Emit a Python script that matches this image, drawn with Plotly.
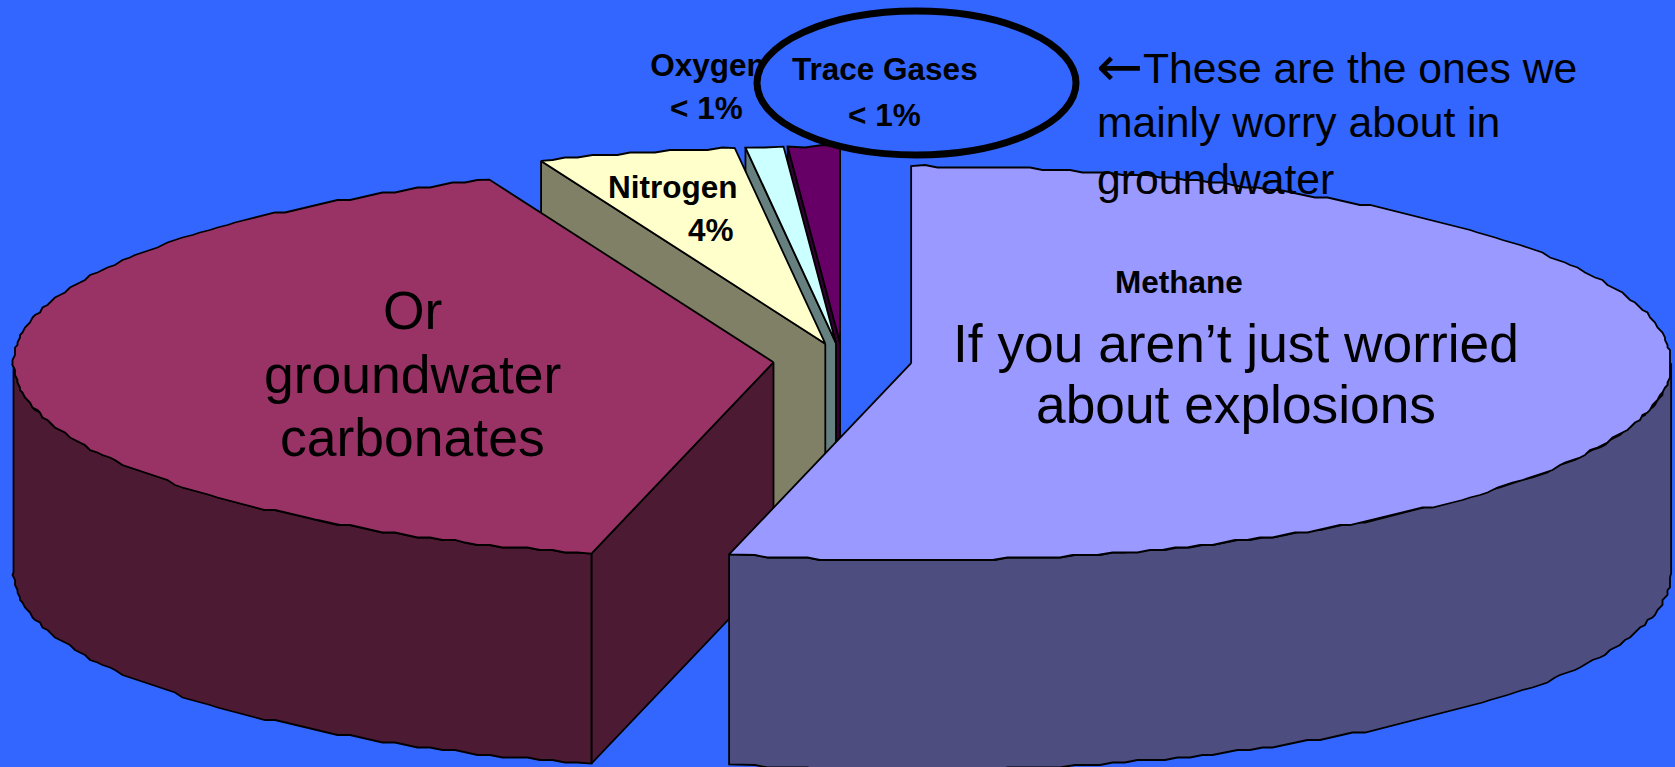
import numpy as np
import plotly.graph_objects as go

# ---- data -------------------------------------------------------------
categories = ["Methane", "Carbon dioxide", "Nitrogen", "Oxygen", "Trace Gases"]
shares = [53.85, 40.05, 4.2, 0.8, 1.1]
top_colors = ["#9999FF", "#993366", "#FFFFCC", "#CCFFFF", "#660066"]
side_colors = ["#4D4D80", "#4D1A33", "#808066", "#668080", "#330033"]

BG = "#3366FF"
W, H = 1675, 767

# ---- pie geometry (3-D projection) --------------------------------------
CX, CY = 842.5, 361.0
RX, RY = 760.0, 197.0
DEPTH = 210.0
EXPLODE = 0.091
GRID = 2.5


def rim(theta, ox, oy):
    """Point on the rim; theta in degrees clockwise from 12 o'clock."""
    t = np.radians(theta)
    return ox + RX * np.sin(t), oy - RY * np.cos(t)


def arc(a0, a1, ox, oy):
    n = max(int(abs(a1 - a0) / 1.0), 2)
    th = np.linspace(a0, a1, n + 1)
    x, y = rim(th, ox, oy)
    # the source is a coarse metafile: its curves sit on a pixel grid
    xs = np.round(x / GRID) * GRID
    ys = np.round(y / GRID) * GRID
    xs[0], ys[0] = x[0], y[0]
    xs[-1], ys[-1] = x[-1], y[-1]
    return xs, ys


def poly(fig, xs, ys, color, name):
    fig.add_trace(go.Scatter(
        x=list(xs) + [xs[0]], y=list(ys) + [ys[0]], mode="lines", fill="toself",
        fillcolor=color, line=dict(color="#000000", width=1.8), name=name,
        hoverinfo="skip", showlegend=False,
    ))


fig = go.Figure()

total = sum(shares)
edges = np.concatenate([[0.0], np.cumsum(shares) / total * 360.0])
slices = []
for i, cat in enumerate(categories):
    a0, a1 = edges[i], edges[i + 1]
    mid = np.radians((a0 + a1) / 2)
    ox = CX + EXPLODE * RX * np.sin(mid)
    oy = CY - EXPLODE * RY * np.cos(mid)
    slices.append((i, cat, a0, a1, ox, oy))

# paint back to front: smallest slices at the back, methane in front
for i, cat, a0, a1, ox, oy in sorted(slices, key=lambda s: -s[0]):
    top, side = top_colors[i], side_colors[i]
    # radial wall on the starting edge, when it faces the viewer
    if 180 < a0 < 360:
        ex, ey = rim(a0, ox, oy)
        poly(fig, [ox, ex, ex, ox], [oy, ey, ey + DEPTH, oy + DEPTH], side, cat + " wall")
    # outer wall: the part of the rim on the near half of the ellipse
    lo, hi = max(a0, 90.0), min(a1, 270.0)
    if lo < hi:
        ax, ay = arc(lo, hi, ox, oy)
        poly(fig, list(ax) + list(ax[::-1]), list(ay) + list(ay[::-1] + DEPTH), side, cat + " side")
    # top face
    ax, ay = arc(a0, a1, ox, oy)
    poly(fig, [ox] + list(ax), [oy] + list(ay), top, cat)

# label that the ellipse partly covers, so it goes under the shape layer
fig.add_trace(go.Scatter(
    x=[708], y=[68], mode="text", text=["Oxygen"], textposition="middle center",
    textfont=dict(family="Liberation Sans", size=31.5, color="#000000", weight="bold"),
    hoverinfo="skip", showlegend=False,
))

fig.add_shape(type="circle", xref="x", yref="y", x0=757, x1=1076, y0=11, y1=155,
              fillcolor=BG, line=dict(color="#000000", width=7), layer="above")

bold = [
    ("< 1%", 706, 108, 31.5),
    ("Trace Gases", 885, 69, 31.5),
    ("< 1%", 884, 115, 31.5),
    ("Nitrogen", 673, 187, 31.5),
    ("4%", 711, 230, 31.5),
    ("Methane", 1179, 282, 31.5),
]
regular = [
    ("Or", 412, 310, 53.5),
    ("groundwater", 412, 374, 53.5),
    ("carbonates", 412, 437, 53.5),
    ("If you aren\u2019t just worried", 1236, 343, 53.3),
    ("about explosions", 1236, 404, 53.3),
]
for txt, x, y, s in bold:
    fig.add_annotation(x=x, y=y, text="<b>%s</b>" % txt, showarrow=False, xanchor="center", yanchor="middle",
                       font=dict(family="Liberation Sans", size=s, color="#000000"))
for txt, x, y, s in regular:
    fig.add_annotation(x=x, y=y, text=txt, showarrow=False, xanchor="center", yanchor="middle",
                       font=dict(family="Liberation Sans", size=s, color="#000000"))
for txt, x, y in [("These are the ones we", 1141, 68), ("mainly worry about in", 1095, 122), ("groundwater", 1095, 179)]:
    fig.add_annotation(x=x, y=y, text=txt, showarrow=False, xanchor="left", yanchor="middle",
                       font=dict(family="Liberation Sans", size=42.7, color="#000000"))
fig.add_annotation(x=1119, y=66, text="\u2190", showarrow=False, xanchor="center", yanchor="middle",
                   font=dict(family="DejaVu Sans", size=56, color="#000000"))

fig.update_layout(
    width=W, height=H, margin=dict(l=0, r=0, t=0, b=0),
    paper_bgcolor=BG, plot_bgcolor=BG, showlegend=False,
    xaxis=dict(visible=False, range=[0, W], fixedrange=True),
    yaxis=dict(visible=False, range=[H, 0], fixedrange=True),
)
fig.write_html("out.html", config={"displayModeBar": False},
               post_script="document.body.style.margin='0';document.body.style.background='%s';document.body.style.overflow='hidden';" % BG)
